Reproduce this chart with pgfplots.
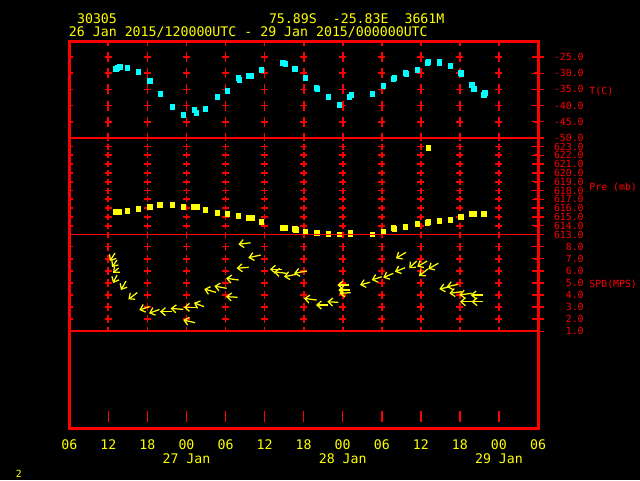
\documentclass[border=0pt]{standalone}
\usepackage{pgfplots}
\pgfplotsset{compat=1.18}
\usepackage{pgfplotstable}
\usetikzlibrary{arrows.meta}
\usepackage{fontspec}
\newfontfamily\gem{DejaVu Sans Mono}
\newcommand\gbig{\gem\fontsize{7.535pt}{7.97pt}\selectfont}
\newcommand\gsmall{\gem\fontsize{5.6pt}{6.2pt}\selectfont}
\definecolor{gcyan}{RGB}{0,255,255}
\definecolor{gyellow}{RGB}{255,255,0}
\definecolor{gred}{RGB}{255,0,0}

\pgfplotstableread{
h T
13.18 -28.68
13.38 -28.28
13.75 -28.06
14.88 -28.37
16.57 -29.61
18.37 -32.40
19.95 -36.43
21.80 -40.47
23.54 -42.95
25.23 -41.40
25.54 -42.33
26.88 -41.09
28.72 -37.36
30.26 -35.50
31.95 -31.47
32.11 -32.09
33.60 -30.85
33.95 -30.85
35.49 -28.99
38.77 -26.82
39.18 -27.13
40.62 -28.68
42.26 -31.47
43.95 -34.57
44.11 -34.88
45.80 -37.36
47.49 -39.84
49.03 -37.36
49.34 -36.74
52.57 -36.43
54.26 -33.95
55.80 -31.78
55.95 -31.47
57.65 -29.92
57.80 -30.23
59.49 -28.99
61.03 -26.82
61.18 -26.51
62.88 -26.51
62.88 -26.82
64.57 -27.75
66.11 -29.92
66.26 -30.23
67.80 -33.64
68.11 -34.88
69.65 -36.74
69.80 -36.12
}\tdata

\pgfplotstableread{
h P
13.18 615.59
13.69 615.59
14.88 615.67
16.57 615.90
18.37 616.13
19.91 616.35
21.80 616.35
23.54 616.13
25.08 616.13
25.65 616.13
26.88 615.79
28.72 615.44
30.26 615.33
32.00 615.10
33.60 614.88
34.06 614.88
35.49 614.42
38.72 613.74
39.18 613.74
40.62 613.62
40.77 613.51
42.26 613.28
43.95 613.17
44.11 613.17
45.80 613.06
47.49 613.00
49.19 613.20
49.19 613.00
52.57 613.00
54.26 613.28
55.80 613.74
55.95 613.62
57.65 613.85
59.49 614.19
61.03 614.31
61.18 614.42
61.18 622.83
62.88 614.54
64.57 614.65
66.11 614.99
67.80 615.33
68.11 615.33
69.65 615.33
}\pdata

\pgfplotstableread{
h s u v
13.02 7.47 -0.77 -0.66
13.33 6.89 -0.77 -0.58
13.56 6.23 -0.84 -0.41
13.33 5.65 -0.61 -0.66
14.71 5.15 -0.77 -0.74
16.45 4.20 -1.38 -0.56
18.29 3.03 -1.54 -0.27
19.86 2.80 -1.61 -0.31
21.73 2.62 -1.80 0.00
23.51 2.81 -1.94 0.08
25.31 1.71 -1.80 0.22
25.57 2.98 -1.95 0.00
26.69 3.03 -1.54 0.33
28.53 4.22 -1.80 0.27
30.18 4.55 -1.90 0.19
31.87 3.81 -1.80 0.05
32.02 5.24 -1.95 0.14
33.56 6.29 -1.84 -0.08
33.86 8.32 -1.90 -0.13
35.40 7.30 -1.90 -0.22
38.63 6.12 -1.80 0.00
39.39 5.79 -1.95 0.13
40.93 5.71 -1.95 -0.20
42.47 5.98 -1.95 -0.19
44.00 3.58 -1.95 0.14
45.78 3.17 -1.89 0.00
47.32 3.39 -1.69 0.05
49.01 4.82 -1.84 0.00
49.12 4.41 -1.80 0.00
49.23 4.19 -1.75 -0.05
52.19 5.05 -1.54 -0.22
53.99 5.51 -1.54 -0.27
55.77 5.79 -1.54 -0.36
57.57 6.25 -1.54 -0.33
57.72 7.53 -1.54 -0.50
59.36 6.81 -1.14 -0.60
60.99 6.81 -1.54 -0.47
61.10 6.15 -1.38 -0.58
62.68 6.62 -1.54 -0.47
64.48 4.68 -1.64 -0.19
65.75 4.88 -1.78 -0.20
66.28 4.27 -1.90 -0.13
67.81 4.14 -1.90 -0.14
69.50 4.00 -1.84 0.00
68.06 3.44 -2.04 0.00
69.59 3.44 -1.78 0.00
}\wdata

\pgfplotsset{
  panel/.style={
    scale only axis, width=9.374cm, height=1.935cm, anchor=south west,
    xmin=6, xmax=78, xtick={12,18,...,72}, xticklabels={},
    axis line style={draw=none},
    xmajorgrids, ymajorgrids,
    xtick style={draw=none},
    ytick pos=right, yticklabel pos=right,
    tick align=center, major tick length=0.24cm,
    ytick style={gred, line width=0.03cm},
    y grid style={gred, line width=0.035cm, dash pattern=on 0.14cm off 0.6411cm, dash phase=0.07cm},
    yticklabel style={font=\gsmall, text=gred, anchor=east, inner sep=0pt, xshift=0.8cm},
    /pgf/number format/fixed, /pgf/number format/fixed zerofill,
    /pgf/number format/precision=1, /pgf/number format/assume math mode=true,
  }
}

\begin{document}
\begin{tikzpicture}
\fill[black] (0,0) rectangle (12.8,9.6);

% Temperature panel
\begin{axis}[panel, at={(1.386cm,6.845cm)},
  ymin=-50, ymax=-20, ytick={-50,-45,...,-25},
  x grid style={gred, line width=0.035cm, dash pattern=on 0.2cm off 0.1225cm, dash phase=0.1cm}]
\addplot[only marks, mark=square*, mark size=0.045cm, gcyan] table[x=h, y=T] \tdata;
\end{axis}

% Pressure panel
\begin{axis}[panel, at={(1.386cm,4.91cm)},
  ymin=613, ymax=624, ytick={613,614,...,623},
  x grid style={gred, line width=0.035cm, dash pattern=on 0.12cm off 0.0559cm, dash phase=0.06cm}]
\addplot[only marks, mark=square*, mark size=0.045cm, gyellow] table[x=h, y=P] \pdata;
\end{axis}

% Wind speed panel
\begin{axis}[panel, at={(1.386cm,2.975cm)},
  ymin=1, ymax=9, ytick={1,2,...,8},
  x grid style={gred, line width=0.035cm, dash pattern=on 0.16cm off 0.0819cm, dash phase=0.08cm}]
\addplot[gyellow, line width=0.025cm, quiver={u=\thisrow{u}, v=\thisrow{v}},
  -{Straight Barb[length=0.09cm, width=0.16cm]}] table[x=h, y=s] \wdata;
\end{axis}

% Bottom (empty) panel with time labels
\begin{axis}[scale only axis, width=9.374cm, height=1.935cm, anchor=south west,
  at={(1.386cm,1.04cm)}, xmin=6, xmax=78, ymin=0, ymax=1,
  axis line style={draw=none}, ytick=\empty,
  xtick={6,12,...,78},
  xticklabels={06,12,18,{00\\27 Jan},06,12,18,{00\\28 Jan},06,12,18,{00\\29 Jan},06},
  major tick length=0pt, xtick style={draw=none},
  xmajorgrids,
  x grid style={gred, line width=0.03cm, dash pattern=on 0.22cm off 1.72cm, dash phase=1.82cm},
  xticklabel style={font=\gbig, text=gyellow, align=center, anchor=north, inner sep=0pt, yshift=-0.226cm}]
\end{axis}

\begin{scope}[x=0.02cm, y=-0.02cm, shift={(0,9.6cm)}]
  \draw[gred, line width=0.06cm] (69.3,41) rectangle (538,428);
  \draw[gred, line width=0.035cm] (69.3,137.75) -- (538,137.75);
  \draw[gred, line width=0.035cm] (69.3,234.5) -- (538,234.5);
  \draw[gred, line width=0.035cm] (69.3,331.25) -- (538,331.25);
  \node[anchor=base west, inner sep=0pt, text=gyellow, font=\gbig] at (76.7,23.3) {30305};
  \node[anchor=base west, inner sep=0pt, text=gyellow, font=\gbig] at (268.6,23.3) {75.89S};
  \node[anchor=base west, inner sep=0pt, text=gyellow, font=\gbig] at (332.4,23.3) {-25.83E};
  \node[anchor=base west, inner sep=0pt, text=gyellow, font=\gbig] at (404.1,23.3) {3661M};
  \node[anchor=base west, inner sep=0pt, text=gyellow, font=\gbig] at (68.6,36) {26 Jan 2015/120000UTC - 29 Jan 2015/000000UTC};
  \node[anchor=base west, inner sep=0pt, text=gyellow, font=\gsmall] at (15.5,477) {2};
  \node[anchor=base west, inner sep=0pt, text=gred, font=\gsmall] at (589,94) {T(C)};
  \node[anchor=base west, inner sep=0pt, text=gred, font=\gsmall] at (589,190) {Pre (mb)};
  \node[anchor=base west, inner sep=0pt, text=gred, font=\gsmall] at (589,287.5) {SPD(MPS)};
\end{scope}
\pgfresetboundingbox
\useasboundingbox (0,0) rectangle (12.8,9.6);
\end{tikzpicture}
\end{document}
